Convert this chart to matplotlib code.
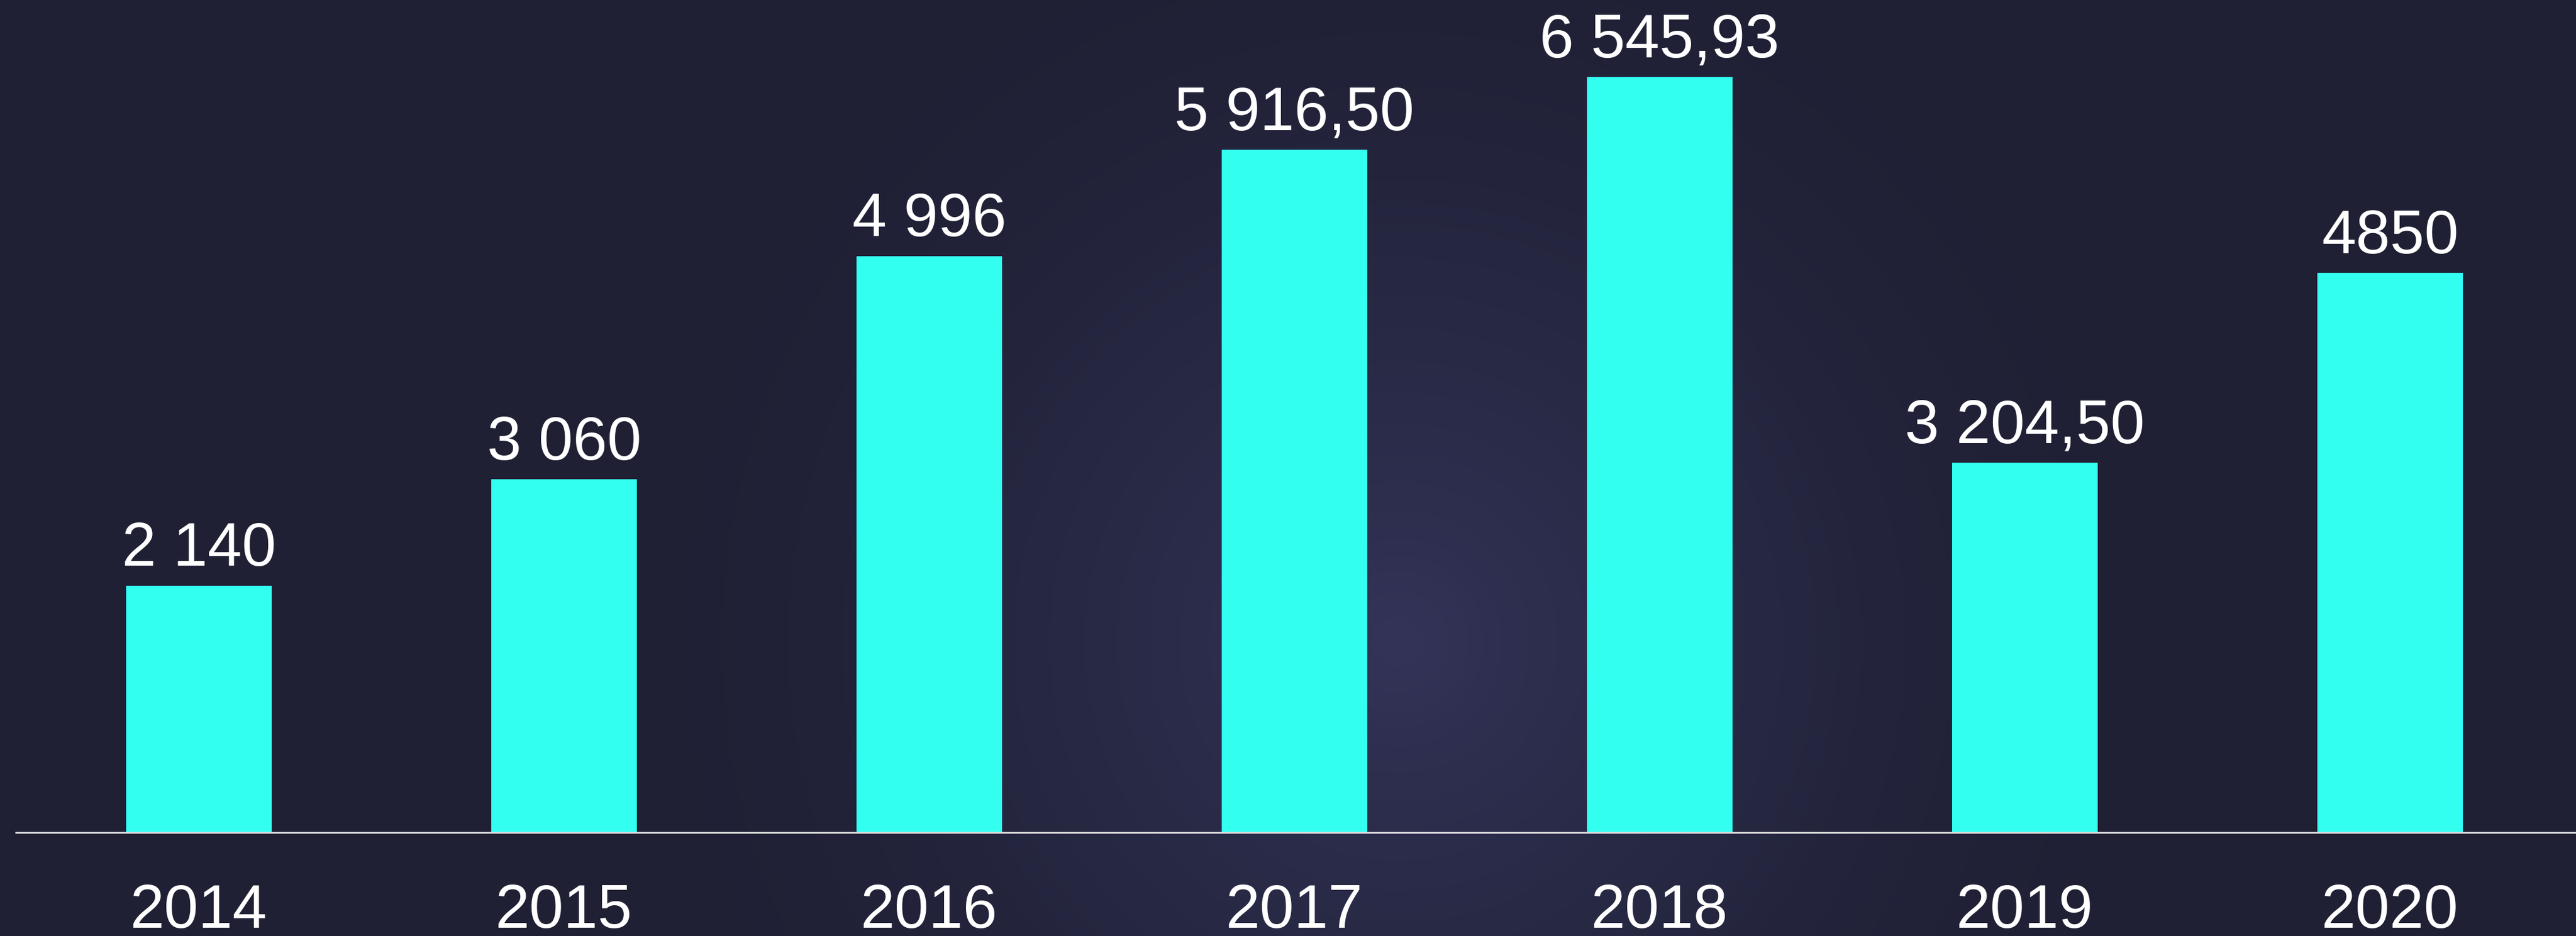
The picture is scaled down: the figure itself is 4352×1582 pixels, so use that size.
import numpy as np
import matplotlib.pyplot as plt

years = ['2014', '2015', '2016', '2017', '2018', '2019', '2020']
values = [2140, 3060, 4996, 5916.50, 6545.93, 3204.50, 4850]
value_labels = ['2 140', '3 060', '4 996', '5 916,50', '6 545,93', '3 204,50', '4850']

bg_edge = np.array([0x1f, 0x20, 0x34]) / 255
bg_center = np.array([0x33, 0x34, 0x58]) / 255
bar_color = '#33fff0'

fig = plt.figure(figsize=(43.52, 15.82), dpi=100)

# radial glow background
bg = fig.add_axes([0, 0, 1, 1])
bg.axis('off')
h, w = 400, 1100
yy, xx = np.mgrid[0:h, 0:w]
cx, cy = 2360 / 4352 * w, 1083 / 1582 * h
r = np.hypot((xx - cx) / w * 4352, (yy - cy) / h * 1582) / 1350
t = np.clip(1 - r, 0, 1) ** 1.6
img = bg_edge + (bg_center - bg_edge) * t[..., None]
bg.imshow(img, aspect='auto', extent=[0, 1, 0, 1], origin='upper')
bg.set_xlim(0, 1)
bg.set_ylim(0, 1)

ax = fig.add_axes([0, 0, 1, 1])
ax.patch.set_alpha(0)
x = np.arange(len(years))
ax.bar(x, values, width=0.4, color=bar_color, zorder=2)
ax.set_xlim(-0.5446, 6.509)
ax.set_ylim(-897, 7214)
ax.axhline(0, xmin=0.0062, xmax=1, color='#e0e0e0', lw=2.2, zorder=3)

for xi, v, lab in zip(x, values, value_labels):
    ax.annotate(lab, (xi, v), xytext=(0, 24), textcoords='offset points',
                ha='center', va='baseline', color='white', fontsize=75,
                family='Liberation Sans')
for xi, yr in zip(x, years):
    ax.text(xi, -825, yr, ha='center', va='baseline', color='white',
            fontsize=75, family='Liberation Sans')

ax.axis('off')
fig.savefig('out.png', dpi=100)
